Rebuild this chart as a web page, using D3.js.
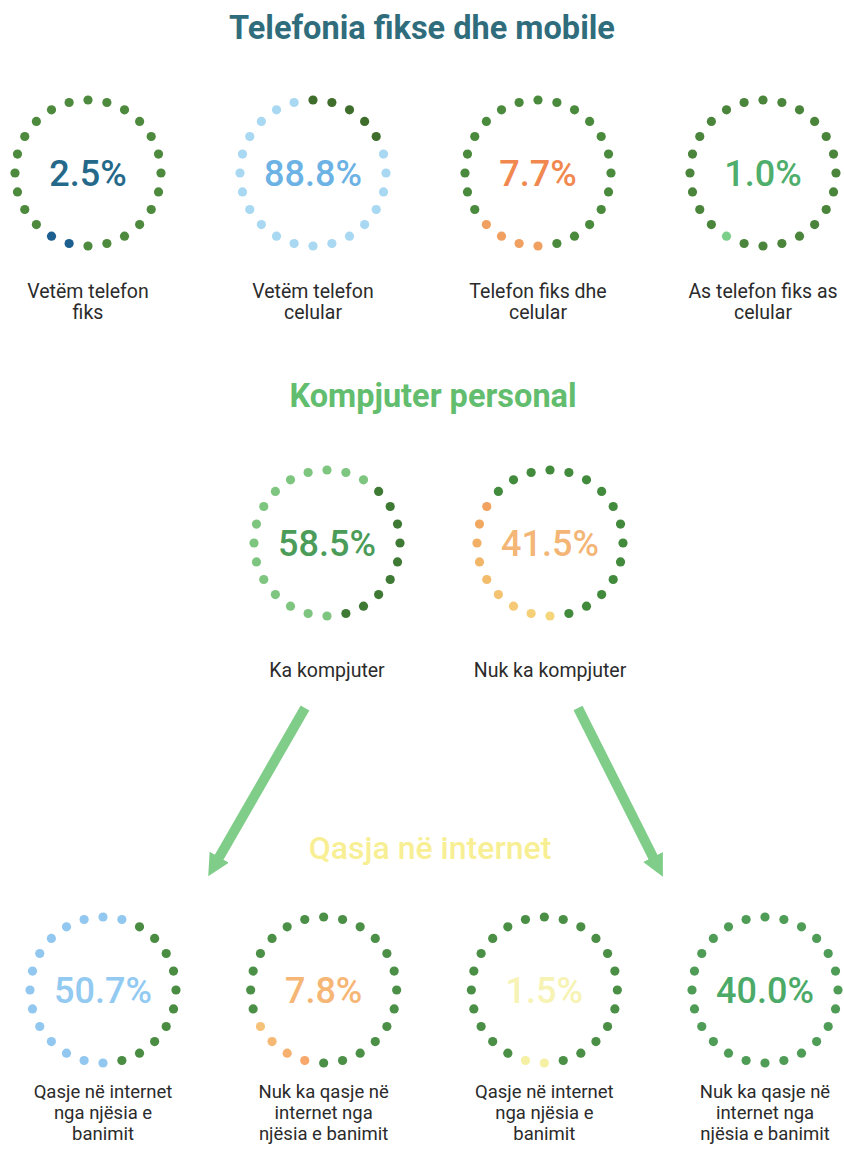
<!DOCTYPE html>
<html>
<head>
<meta charset="utf-8">
<script src="https://cdn.jsdelivr.net/npm/d3@7"></script>
<style>
  html, body { margin: 0; padding: 0; background: #fff; }
  svg { display: block; font-family: Roboto, "Noto Sans", sans-serif; }
</style>
</head>
<body>
<div id="chart"></div>
<script>
const width = 844;
const height = 1150;

// section titles
const titles = ["Telefonia fikse dhe mobile", "Kompjuter personal", "Qasja në internet"];

// row 1: telephony
const phoneLabels = [["Vetëm telefon", "fiks"], ["Vetëm telefon", "celular"], ["Telefon fiks dhe", "celular"], ["As telefon fiks as", "celular"]];
const phoneValues = [2.5, 88.8, 7.7, 1.0];
const phoneMarked = [[13, 2], [5, 19], [12, 4], [14, 1]]; // [first dot, dot count]

// row 2: computer
const pcLabels = [["Ka kompjuter"], ["Nuk ka kompjuter"]];
const pcValues = [58.5, 41.5];
const pcMarked = [[12, 15], [12, 9]];

// row 3: internet
const netLabels = [["Qasje në internet", "nga njësia e", "banimit"], ["Nuk ka qasje në", "internet nga", "njësia e banimit"], ["Qasje në internet", "nga njësia e", "banimit"], ["Nuk ka qasje në", "internet nga", "njësia e banimit"]];
const netValues = [50.7, 7.8, 1.5, 40.0];
const netMarked = [[12, 14], [13, 4], [12, 2], [0, 0]];

const dotCount = 24;

// colours per ring: text, marked dots (one or two for a ramp), base dots
const phoneColors = [
  {text: "#25698a", mark: ["#1d5f8e"], base: "#4d8a3d"},
  {text: "#6cb2e4", mark: ["#a9d8f2"], base: "#3f6e2c"},
  {text: "#f08850", mark: ["#f0a060"], base: "#4a8a3c"},
  {text: "#4fae6c", mark: ["#7ccf8a"], base: "#4a853b"}
];
const pcColors = [
  {text: "#4a9c58", mark: ["#7ec680"], base: "#3e7a34"},
  {text: "#f3b676", mark: ["#f6d67c", "#f0a25e"], base: "#428a3c"}
];
const netColors = [
  {text: "#92caf2", mark: ["#92c8f0"], base: "#4a8c42"},
  {text: "#f6b676", mark: ["#f7a86a", "#f6c27a"], base: "#4c9048"},
  {text: "#f7f3b4", mark: ["#f5f0a4"], base: "#4a8f45"},
  {text: "#4caa68", mark: ["#4e9e58"], base: "#4f9c57"}
];

const svg = d3.select("#chart").append("svg")
    .attr("width", width)
    .attr("height", height);

const angle = d3.scaleLinear().domain([0, dotCount]).range([0, 2 * Math.PI]);
const ringR = 73;
const dotR = 4.6;

function ring(g, cx, cy, value, marked, col, lines, labelY, lineH, labelSize) {
  const [start, count] = marked;
  const ramp = col.mark.length > 1
    ? d3.scaleLinear().domain([0, Math.max(1, count - 1)]).range(col.mark).interpolate(d3.interpolateRgb)
    : () => col.mark[0];
  const dots = d3.range(dotCount).map(i => {
    const k = (i - start + dotCount) % dotCount;
    return {i, on: k < count, k};
  });
  g.selectAll(null)
    .data(dots)
    .join("circle")
      .attr("cx", d => cx + ringR * Math.sin(angle(d.i)))
      .attr("cy", d => cy - ringR * Math.cos(angle(d.i)))
      .attr("r", dotR)
      .attr("fill", d => d.on ? ramp(d.k) : col.base);

  g.append("text")
      .attr("x", cx)
      .attr("y", cy)
      .attr("dy", "0.36em")
      .attr("text-anchor", "middle")
      .attr("font-size", 36)
      .attr("font-weight", 500)
      .attr("fill", col.text)
      .text(d3.format(".1f")(value) + "%");

  g.append("text")
      .attr("text-anchor", "middle")
      .attr("font-size", labelSize)
      .attr("fill", "#2b2b2b")
    .selectAll("tspan")
    .data(lines)
    .join("tspan")
      .attr("x", cx)
      .attr("y", (d, i) => labelY + i * lineH)
      .text(d => d);
}

// titles
svg.append("text")
    .attr("x", 422).attr("y", 39)
    .attr("text-anchor", "middle")
    .attr("font-size", 32.5).attr("font-weight", 700)
    .attr("fill", "#2f6d7c")
    .text(titles[0]);

svg.append("text")
    .attr("x", 433).attr("y", 407)
    .attr("text-anchor", "middle")
    .attr("font-size", 32.5).attr("font-weight", 700)
    .attr("fill", "#62bd6e")
    .text(titles[1]);

svg.append("text")
    .attr("x", 430).attr("y", 859)
    .attr("text-anchor", "middle")
    .attr("font-size", 32).attr("font-weight", 500)
    .attr("fill", "#f8ef94")
    .text(titles[2]);

// row 1
const x1 = d3.scalePoint().domain(d3.range(phoneValues.length)).range([88, 763]);
const row1 = svg.append("g");
phoneValues.forEach((v, i) => ring(row1.append("g"), x1(i), 173, v, phoneMarked[i], phoneColors[i], phoneLabels[i], 298, 21, 19.5));

// row 2
const x2 = d3.scalePoint().domain(d3.range(pcValues.length)).range([327, 550]);
const row2 = svg.append("g");
pcValues.forEach((v, i) => ring(row2.append("g"), x2(i), 543, v, pcMarked[i], pcColors[i], pcLabels[i], 677, 21, 19.5));

// row 3
const x3 = d3.scalePoint().domain(d3.range(netValues.length)).range([103, 765]);
const row3 = svg.append("g");
netValues.forEach((v, i) => ring(row3.append("g"), x3(i), 990, v, netMarked[i], netColors[i], netLabels[i], 1098, 21, 18.5));

// arrows from row 2 towards row 3
svg.append("defs").append("marker")
    .attr("id", "head")
    .attr("viewBox", "0 0 10 10")
    .attr("refX", 2).attr("refY", 5)
    .attr("markerWidth", 2.2).attr("markerHeight", 2.2)
    .attr("orient", "auto")
  .append("path")
    .attr("d", "M0,0L10,5L0,10Z")
    .attr("fill", "#7fcd88");

const arrows = [
  {x0: 305, y0: 708, x1: 217, y1: 861},
  {x0: 578, y0: 708, x1: 655, y1: 861}
];
svg.append("g")
  .selectAll("line")
  .data(arrows)
  .join("line")
    .attr("x1", d => d.x0).attr("y1", d => d.y0)
    .attr("x2", d => d.x1).attr("y2", d => d.y1)
    .attr("stroke", "#7fcd88")
    .attr("stroke-width", 10)
    .attr("marker-end", "url(#head)");
</script>
</body>
</html>
